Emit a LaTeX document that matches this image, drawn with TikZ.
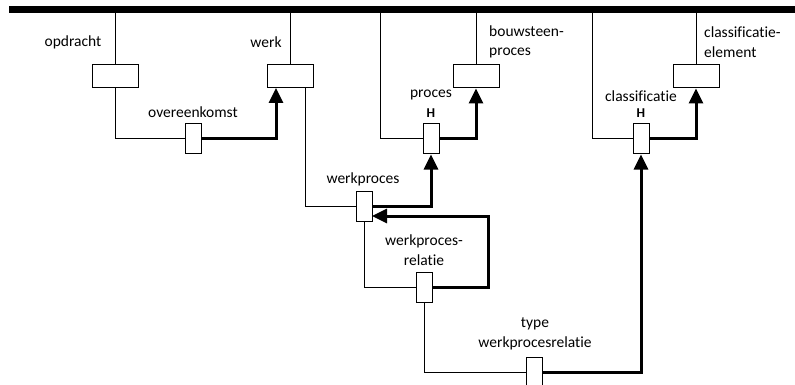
\documentclass[tikz,border=0pt]{standalone}
\usepackage{fontspec}
\setmainfont{Carlito}[Ligatures=NoCommon]
\usetikzlibrary{arrows.meta}
\begin{document}
\begin{tikzpicture}[x=1pt,y=-1pt,
  ent/.style={draw,line width=1pt,minimum width=46pt,minimum height=23pt,inner sep=0pt,fill=white},
  rel/.style={draw,line width=1pt,minimum width=16pt,minimum height=30pt,inner sep=0pt,fill=white},
  thin/.style={line width=1pt},
  thick/.style={line width=3pt,-{Triangle[width=14pt,length=15pt]}},
  lbl/.style={font=\fontsize{15.5}{19.5}\selectfont,inner sep=0pt,align=center},
  hlbl/.style={font=\fontsize{13.5}{14}\selectfont\bfseries,inner sep=0pt}]
\useasboundingbox (0,0) rectangle (795,385);
% top bar
\coordinate (barL) at (9,10);
\coordinate (barR) at (795,10);
\draw[line width=7pt] (barL) -- (barR);
% coordinates on the bar
\coordinate (bOpd) at (115,10);
\coordinate (bWerk) at (290,10);
\coordinate (bProc) at (380,10);
\coordinate (bBouw) at (476,10);
\coordinate (bClass) at (592,10);
\coordinate (bElem) at (696,10);
% entity boxes
\node[ent] (opd) at (115,76.5) {};
\node[ent] (werk) at (290,76.5) {};
\node[ent] (bouw) at (476,76.5) {};
\node[ent] (elem) at (696,76.5) {};
% relation boxes
\node[rel] (over) at (193.5,139) {};
\node[rel] (proc) at (431,139) {};
\node[rel] (class) at (641,139) {};
\node[rel] (wp) at (364,206) {};
\node[rel] (wpr) at (424,287) {};
\node[rel] (type) at (534.5,372) {};
% helper coordinates
\coordinate (werkOut) at (305,88);
\coordinate (overIn) at (276,88);
\coordinate (wprTurn) at (488,216);
\coordinate (wpIn) at (372,216);
% thin connectors
\draw[thin] (bOpd) -- (opd.north);
\draw[thin] (opd.south) |- (over.west);
\draw[thin] (bWerk) -- (werk.north);
\draw[thin] (werkOut) |- (wp.west);
\draw[thin] (bProc) |- (proc.west);
\draw[thin] (bBouw) -- (bouw.north);
\draw[thin] (bClass) |- (class.west);
\draw[thin] (bElem) -- (elem.north);
\draw[thin] (wp.south) |- (wpr.west);
\draw[thin] (wpr.south) |- (type.west);
% thick arrows
\draw[thick] (over.east) -| (overIn);
\draw[thick] (proc.east) -| (bouw.south);
\draw[thick] (class.east) -| (elem.south);
\draw[thick] (wp.east) -| (proc.south);
\draw[thick] (wpr.east) -| (wprTurn) -- (wpIn);
\draw[thick] (type.east) -| (class.south);
% redraw boxes on top
\node[rel] at (over) {};
\node[rel] at (proc) {};
\node[rel] at (class) {};
\node[rel] at (wp) {};
\node[rel] at (wpr) {};
\node[rel] at (type) {};
% labels
\node[lbl] (lOpd) at (73,42) {opdracht};
\node[lbl] (lWerk) at (266,42) {werk};
\node[lbl] (lOver) at (193,112) {overeenkomst};
\node[lbl,anchor=west,align=left] (lBouw) at (489,42) {bouwsteen-\\proces};
\node[lbl] (lProc) at (431,95) {proces};
\node[hlbl] (hProc) at (431,113) {H};
\node[lbl] (lClass) at (641,96) {classificatie};
\node[hlbl] (hClass) at (641,113) {H};
\node[lbl,anchor=west,align=left] (lElem) at (704,42) {classificatie-\\element};
\node[lbl] (lWp) at (363,179) {werkproces};
\node[lbl] (lWpr) at (424,250) {werkproces-\\relatie};
\node[lbl] (lType) at (535,334) {type\\werkprocesrelatie};
\end{tikzpicture}
\end{document}
